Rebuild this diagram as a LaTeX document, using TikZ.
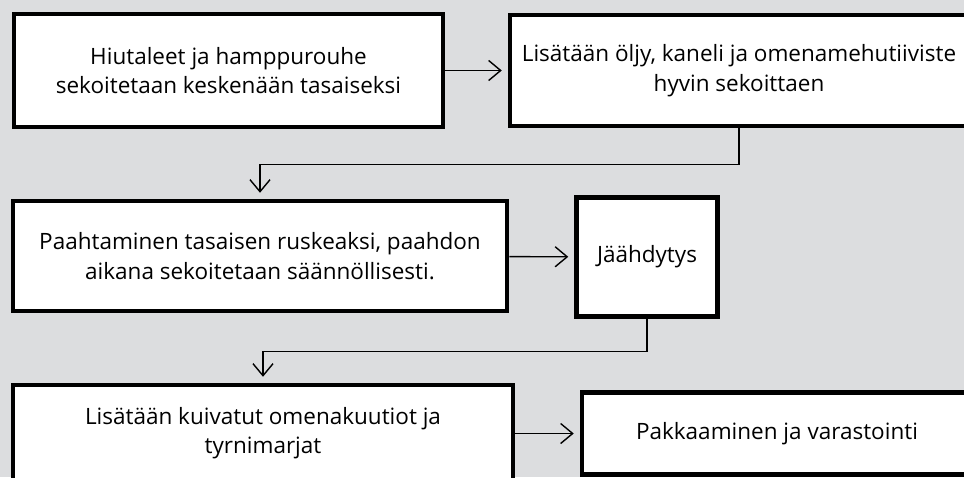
\documentclass[tikz,border=0pt]{standalone}
\usepackage{fontspec}
\setmainfont{Open Sans}
\usetikzlibrary{positioning,arrows.meta}
\definecolor{bggray}{RGB}{220,221,223}

\begin{document}
\begin{tikzpicture}[x=1pt,y=-1pt]
	\tikzset{stepbox/.style={draw,line width=4.5pt,fill=white,align=center,inner sep=0pt,
		font=\fontsize{22.5}{29.5}\selectfont}}
	\tikzset{flow/.style={line width=1.4pt,-{Straight Barb[length=12pt,width=20pt]},shorten >=6pt}}
	\fill[bggray] (0,0) rectangle (964,477);
	\clip (0,0) rectangle (964,477);

	%% Process steps
	\node[stepbox,minimum width=429pt,minimum height=113pt] (mix) at (228.5,70.5)
		{Hiutaleet ja hamppurouhe\\sekoitetaan keskenään tasaiseksi};
	\node[stepbox,minimum width=458pt,minimum height=111pt] (oil) at (739,70.5)
		{Lisätään öljy, kaneli ja omenamehutiiviste\\hyvin sekoittaen};
	\node[stepbox,minimum width=494pt,minimum height=110pt] (roast) at (260,256)
		{Paahtaminen tasaisen ruskeaksi, paahdon\\aikana sekoitetaan säännöllisesti.};
	\node[stepbox,minimum width=141pt,minimum height=119pt] (cool) at (647,257)
		{Jäähdytys};
	\node[stepbox,minimum width=500pt,minimum height=96pt] (fruit) at (263,433)
		{Lisätään kuivatut omenakuutiot ja\\tyrnimarjat};
	\node[stepbox,minimum width=390pt,minimum height=82pt] (pack) at (777,433.5)
		{Pakkaaminen ja varastointi};

	%% Connectors
	\draw[flow] (mix) -- (oil);
	\draw[flow] (oil.south) -- ++(0,36) -| (roast.north);
	\draw[flow] (roast) -- (cool);
	\draw[flow] (cool.south) -- ++(0,33) -| (fruit.north);
	\draw[flow] (fruit.east |- pack) -- (pack);
\end{tikzpicture}
\end{document}
